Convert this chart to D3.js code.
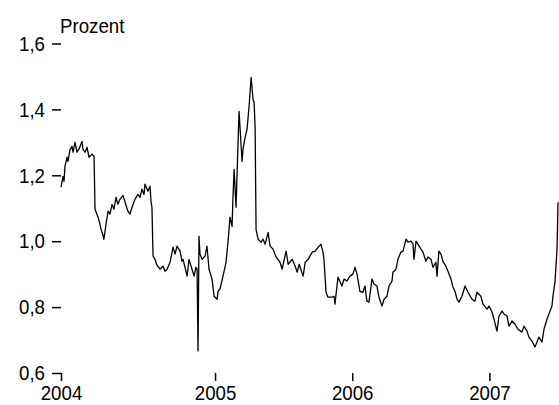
<!DOCTYPE html>
<head>
  <meta charset="utf-8">
  <script src="https://d3js.org/d3.v7.min.js"></script>
  <style>
    body { margin:0; background:#fff; }
    text { font-family: "Liberation Sans", Arial, sans-serif; fill:#000; }
  </style>
</head>
<body>
<svg width="559" height="405" id="chart"></svg>
<script>
// decimal years
var years = [2003.877,2003.884,2003.892,2003.899,2003.906,2003.921,2003.928,2003.943,2003.957,2003.965,
  2003.979,2003.994,2004.008,2004.030,2004.037,2004.052,2004.067,2004.081,2004.103,2004.118,
  2004.125,2004.147,2004.161,2004.169,2004.183,2004.190,2004.205,2004.220,2004.234,2004.249,
  2004.263,2004.278,2004.292,2004.307,2004.329,2004.351,2004.365,2004.380,2004.395,2004.416,
  2004.438,2004.453,2004.467,2004.482,2004.489,2004.511,2004.526,2004.533,2004.540,2004.548,
  2004.562,2004.577,2004.599,2004.621,2004.635,2004.650,2004.672,2004.694,2004.708,2004.723,
  2004.745,2004.759,2004.767,2004.781,2004.796,2004.810,2004.832,2004.847,2004.861,2004.869,
  2004.876,2004.883,2004.890,2004.905,2004.927,2004.941,2004.956,2004.978,2004.993,2005.015,
  2005.022,2005.036,2005.058,2005.080,2005.095,2005.109,2005.124,2005.131,2005.139,2005.153,
  2005.160,2005.175,2005.197,2005.204,2005.219,2005.233,2005.248,2005.263,2005.277,2005.285,
  2005.292,2005.299,2005.314,2005.336,2005.350,2005.365,2005.387,2005.401,2005.423,2005.445,
  2005.474,2005.489,2005.518,2005.533,2005.562,2005.584,2005.599,2005.613,2005.642,2005.657,
  2005.679,2005.708,2005.730,2005.752,2005.772,2005.787,2005.794,2005.809,2005.823,2005.852,
  2005.867,2005.874,2005.889,2005.896,2005.925,2005.940,2005.961,2005.983,2006.005,2006.020,
  2006.035,2006.056,2006.078,2006.093,2006.107,2006.122,2006.144,2006.159,2006.180,2006.195,
  2006.217,2006.232,2006.253,2006.268,2006.290,2006.297,2006.319,2006.333,2006.355,2006.370,
  2006.392,2006.406,2006.428,2006.443,2006.450,2006.465,2006.479,2006.501,2006.516,2006.537,
  2006.552,2006.574,2006.589,2006.610,2006.618,2006.632,2006.647,2006.661,2006.683,2006.698,
  2006.720,2006.734,2006.749,2006.764,2006.778,2006.800,2006.822,2006.844,2006.873,2006.895,
  2006.909,2006.938,2006.953,2006.982,2006.997,2007.019,2007.033,2007.055,2007.070,2007.092,
  2007.106,2007.128,2007.143,2007.165,2007.187,2007.208,2007.237,2007.252,2007.274,2007.288,
  2007.310,2007.332,2007.347,2007.361,2007.383,2007.398,2007.420,2007.434,2007.456,2007.463,
  2007.478,2007.493,2007.500];

// Prozent
var values = [1.164,1.179,1.197,1.182,1.227,1.255,1.242,1.279,1.288,1.270,
  1.300,1.270,1.279,1.303,1.279,1.270,1.285,1.255,1.264,1.258,
  1.097,1.073,1.052,1.036,1.018,1.006,1.052,1.091,1.082,1.112,
  1.097,1.133,1.112,1.127,1.139,1.109,1.091,1.082,1.103,1.127,
  1.142,1.133,1.158,1.142,1.173,1.152,1.167,1.121,1.103,0.955,
  0.945,0.927,0.915,0.924,0.909,0.915,0.936,0.982,0.961,0.985,
  0.970,0.939,0.945,0.921,0.894,0.945,0.915,0.894,0.921,0.915,
  0.667,1.015,0.961,0.945,0.955,0.985,0.915,0.885,0.833,0.824,
  0.848,0.855,0.894,0.936,1.000,1.073,1.045,1.136,1.218,1.103,
  1.197,1.394,1.242,1.279,1.315,1.339,1.409,1.497,1.430,1.421,
  1.345,1.036,1.006,0.997,1.006,0.991,1.027,0.985,0.976,0.952,
  0.936,0.915,0.970,0.930,0.945,0.924,0.906,0.930,0.894,0.936,
  0.945,0.967,0.970,0.982,0.991,0.967,0.945,0.845,0.830,0.830,
  0.833,0.809,0.864,0.891,0.864,0.885,0.879,0.894,0.900,0.921,
  0.900,0.848,0.845,0.864,0.818,0.815,0.885,0.870,0.864,0.830,
  0.803,0.824,0.833,0.864,0.879,0.906,0.915,0.945,0.967,0.970,
  1.006,0.997,1.000,0.991,0.945,1.000,0.991,0.976,0.967,0.939,
  0.952,0.945,0.921,0.936,0.894,0.970,0.961,0.939,0.924,0.909,
  0.885,0.861,0.848,0.824,0.815,0.833,0.864,0.845,0.824,0.818,
  0.845,0.833,0.809,0.794,0.803,0.785,0.764,0.727,0.773,0.788,
  0.779,0.773,0.742,0.758,0.748,0.733,0.724,0.742,0.727,0.709,
  0.697,0.679,0.694,0.709,0.694,0.733,0.764,0.779,0.803,0.833,
  0.876,0.976,1.118];

var xTicks = [2003.877, 2005, 2006, 2007];
var xLabels = ["2004", "2005", "2006", "2007"];
var yTicks = [0.6, 0.8, 1.0, 1.2, 1.4, 1.6];
var yTitle = "Prozent";

var svg = d3.select("#chart"),
    margin = {top: 43.5, right: 1, bottom: 32, left: 61},
    width = svg.attr("width") - margin.left - margin.right,
    height = svg.attr("height") - margin.top - margin.bottom,
    g = svg.append("g").attr("transform", "translate(" + margin.left + "," + margin.top + ")");

var squeeze = 0.89; // the labels in the picture are a narrow face

var x = d3.scaleLinear().domain([2003.877, 2007.5]).range([0, width]),
    y = d3.scaleLinear().domain([0.6, 1.6]).range([height, 0]);

var fmt = function(d) { return d.toFixed(1).replace(".", ","); };

var yAxis = g.append("g")
  .call(d3.axisLeft(y).tickValues(yTicks).tickFormat(fmt).tickSize(9).tickPadding(7));
var xAxis = g.append("g")
  .attr("transform", "translate(0," + height + ")")
  .call(d3.axisBottom(x).tickValues(xTicks)
    .tickFormat(function(d, i) { return xLabels[i]; })
    .tickSize(8).tickPadding(4));

[xAxis, yAxis].forEach(function(a) {
  a.select(".domain").remove();
  a.selectAll("line").attr("stroke", "#000").attr("stroke-width", 1.5);
  a.selectAll("text").style("font-size", "21px").attr("fill", "#000")
    .attr("x", function() { return +d3.select(this).attr("x") / squeeze; })
    .attr("transform", "scale(" + squeeze + ",1)");
});

svg.append("text")
  .attr("x", 60 / squeeze).attr("y", 33)
  .attr("transform", "scale(" + squeeze + ",1)")
  .style("font-size", "21px")
  .text(yTitle);

var data = years.map(function(d, i) { return [d, values[i]]; });

g.append("path")
  .datum(data)
  .attr("fill", "none")
  .attr("stroke", "#000")
  .attr("stroke-width", 1.3)
  .attr("stroke-linejoin", "round")
  .attr("d", d3.line()
    .x(function(d) { return x(d[0]); })
    .y(function(d) { return y(d[1]); }));
</script>
</body>
